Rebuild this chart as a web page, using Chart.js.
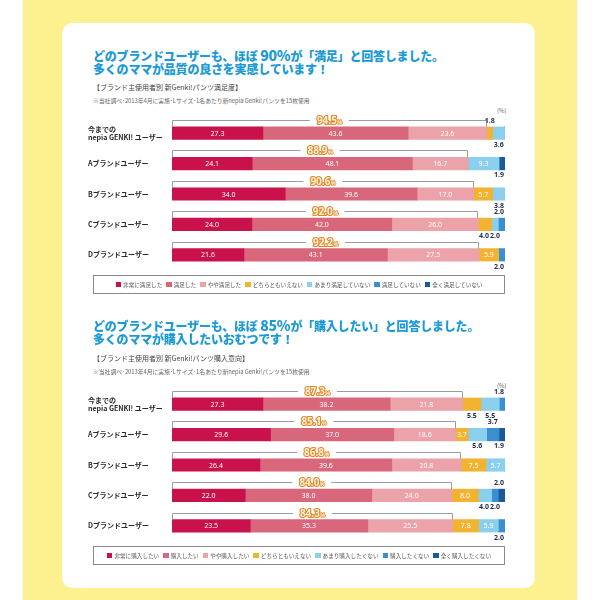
<!DOCTYPE html>
<html><head><meta charset="utf-8">
<script src="https://cdn.jsdelivr.net/npm/chart.js@4/dist/chart.umd.min.js"></script>
<style>
html,body{margin:0;padding:0;background:#fff;width:600px;height:600px;overflow:hidden;font-family:"Noto Sans CJK JP","Noto Sans",sans-serif;}
#yellow{position:absolute;left:23px;top:0;width:554px;height:600px;background:#fdf08e;}
#panel{position:absolute;left:62px;top:23px;width:473px;height:565px;background:#fff;border-radius:10px;}
.t{position:absolute;white-space:nowrap;}
.title{left:93px;font-size:12px;line-height:14px;font-weight:900;color:#1b9ad6;letter-spacing:-0.2px;}
.title b{font-size:14px;font-weight:900;}
.sub{left:93px;font-size:7px;line-height:9px;color:#444;}
.note{left:93px;font-size:5.8px;line-height:8px;color:#666;}
.pct{left:497px;font-size:6px;line-height:8px;color:#666;}
.cw{position:absolute;}
.legend{position:absolute;left:93px;width:412px;height:19px;box-sizing:border-box;border:1px solid #8a8a8a;display:flex;align-items:center;justify-content:center;font-size:5.6px;color:#555;}
.legend .item{display:flex;align-items:center;margin:0 2px;white-space:nowrap;}
.legend i{display:inline-block;width:5.5px;height:5.5px;margin-right:2px;}
</style>
</head>
<body>
<div id="yellow"></div>
<div id="panel"></div>

<div class="t title" style="top:48px">どのブランドユーザーも、ほぼ <b>90%</b>が「満足」と回答しました。</div>
<div class="t title" style="top:62px">多くのママが品質の良さを実感しています！</div>
<div class="t sub" style="top:82.5px">【ブランド主使用者別 新Genki!パンツ満足度】</div>
<div class="t note" style="top:97px">※当社調べ･2013年4月に実施･Lサイズ･1名あたり新nepia Genki!パンツを15枚使用</div>
<div class="t pct" style="top:107px">(%)</div>
<div class="cw" style="left:88px;top:104.75px;width:432px;height:178.5px"><canvas id="c1" width="432" height="178.5"></canvas></div>
<div class="legend" id="leg1" style="top:275px"></div>

<div class="t title" style="top:318px">どのブランドユーザーも、ほぼ <b>85%</b>が「購入したい」と回答しました。</div>
<div class="t title" style="top:332px">多くのママが購入したいおむつです！</div>
<div class="t sub" style="top:353.5px">【ブランド主使用者別 新Genki!パンツ購入意向】</div>
<div class="t note" style="top:368px">※当社調べ･2013年4月に実施･Lサイズ･1名あたり新nepia Genki!パンツを15枚使用</div>
<div class="t pct" style="top:382px">(%)</div>
<div class="cw" style="left:88px;top:376.3px;width:432px;height:178px"><canvas id="c2" width="432" height="178"></canvas></div>
<div class="legend" id="leg2" style="top:546px"></div>

<script>
// ---- data ----
const rowLabels = [["今までの","nepia GENKI! ユーザー"],"Aブランドユーザー","Bブランドユーザー","Cブランドユーザー","Dブランドユーザー"];

const satLabels = ["非常に満足した","満足した","やや満足した","どちらともいえない","あまり満足していない","満足していない","全く満足していない"];
const satVery    = [27.3, 24.1, 34.0, 24.0, 21.6];
const satYes     = [43.6, 48.1, 39.6, 42.0, 43.1];
const satSome    = [23.6, 16.7, 17.0, 26.0, 27.5];
const satNeutral = [1.8, 0, 5.7, 4.0, 5.9];
const satNotMuch = [3.6, 9.3, 3.8, 2.0, 0];
const satNot     = [0, 0, 0, 2.0, 2.0];
const satNotAll  = [0, 1.9, 0, 0, 0];
const satTotals  = [94.5, 88.9, 90.6, 92.0, 92.2];

const buyLabels = ["非常に購入したい","購入したい","やや購入したい","どちらともいえない","あまり購入したくない","購入したくない","全く購入したくない"];
const buyVery    = [27.3, 29.6, 26.4, 22.0, 23.5];
const buyYes     = [38.2, 37.0, 39.6, 38.0, 35.3];
const buySome    = [21.8, 18.6, 20.8, 24.0, 25.5];
const buyNeutral = [5.5, 3.7, 7.5, 8.0, 7.8];
const buyNotMuch = [5.5, 5.6, 5.7, 4.0, 5.9];
const buyNot     = [1.8, 3.7, 0, 2.0, 2.0];
const buyNotAll  = [0, 1.9, 0, 2.0, 0];
const buyTotals  = [87.3, 85.1, 86.8, 84.0, 84.3];

// ---- style ----
const colors = ["#c9124c","#d9677b","#eba2a9","#f2b430","#8bcfee","#3b8fd0","#1b5a98"];
// label placement per dataset/row: i=inside, a=above, b=below
const satPlace = [
  ["i","i","i","i","i"],["i","i","i","i","i"],["i","i","i","i","i"],
  ["a","","i","b","i"],["b","i","b","b",""],["","","","a","b"],["","b","","",""]
];
const buyPlace = [
  ["i","i","i","i","i"],["i","i","i","i","i"],["i","i","i","i","i"],
  ["b","i","i","i","i"],["b","b","i","b","i"],["a","a","","b","b"],["","b","","a",""]
];

const annot = {
  id:'annot',
  afterDatasetsDraw(chart, args, opts){
    const ctx = chart.ctx, xs = chart.scales.x;
    const ds = chart.data.datasets;
    const nRows = chart.data.labels.length;
    for(let r=0;r<nRows;r++){
      const b0 = chart.getDatasetMeta(0).data[r];
      const top = b0.y - b0.height/2, bot = b0.y + b0.height/2;
      // bracket
      const x0 = xs.getPixelForValue(0);
      let sum = 0; for(let d=0; d<3; d++) sum += ds[d].data[r];
      const x1 = xs.getPixelForValue(sum);
      const ly = Math.round(top-7)+0.5;
      ctx.save();
      ctx.strokeStyle='#9c9c9c'; ctx.lineWidth=1;
      ctx.beginPath();
      ctx.moveTo(Math.round(x0)+0.5, top); ctx.lineTo(Math.round(x0)+0.5, ly);
      ctx.lineTo(Math.round(x1)-0.5, ly); ctx.lineTo(Math.round(x1)-0.5, top);
      ctx.stroke();
      const num = opts.totals[r].toFixed(1);
      ctx.font='bold 10px "Noto Sans", sans-serif';
      const w1 = ctx.measureText(num).width;
      ctx.font='bold 5.5px "Noto Sans", sans-serif';
      const w2 = ctx.measureText('%').width;
      const tw = w1+w2, cx=(x0+x1)/2;
      ctx.fillStyle='#fff';
      ctx.fillRect(cx-tw/2-7, ly-4, tw+14, 8);
      ctx.textBaseline='middle'; ctx.textAlign='left';
      ctx.lineJoin='round';
      ctx.font='bold 10px "Noto Sans", sans-serif';
      ctx.strokeStyle='#e4852a'; ctx.lineWidth=2.2;
      ctx.strokeText(num, cx-tw/2, ly+0.5);
      ctx.fillStyle='#fff3d2';
      ctx.fillText(num, cx-tw/2, ly+0.5);
      ctx.font='bold 5.5px "Noto Sans", sans-serif';
      ctx.lineWidth=1.5;
      ctx.strokeText('%', cx-tw/2+w1+0.5, ly+2);
      ctx.fillText('%', cx-tw/2+w1+0.5, ly+2);
      ctx.restore();

      // values
      const outs = {a:[], b:[]};
      ctx.save();
      ctx.textAlign='center'; ctx.textBaseline='middle';
      for(let d=0; d<ds.length; d++){
        const v = ds[d].data[r];
        const p = opts.place[d][r];
        if(!v || !p) continue;
        const el = chart.getDatasetMeta(d).data[r];
        const mid = (el.x + el.base)/2;
        const txt = v.toFixed(1);
        if(p==='i'){
          ctx.font='7px "Noto Sans", sans-serif';
          ctx.fillStyle='#fff';
          ctx.fillText(txt, mid, el.y+0.5);
        } else {
          outs[p].push({x:mid, txt});
        }
      }
      ctx.font='bold 7px "Noto Sans", sans-serif';
      ctx.fillStyle='#1d2c4c';
      for(const side of ['a','b']){
        const list = outs[side];
        for(const it of list) it.w = ctx.measureText(it.txt).width;
        for(let i=list.length-1;i>=0;i--){
          let lim = xs.right - 6;
          if(i<list.length-1) lim = list[i+1].x - (list[i].w+list[i+1].w)/2 - 1;
          list[i].x = Math.min(list[i].x, lim);
        }
        const yy = side==='a' ? top-6 : bot+5.5;
        for(const it of list) ctx.fillText(it.txt, it.x, yy);
      }
      ctx.restore();
    }
  }
};

function makeChart(id, labels, series, totals, place){
  return new Chart(document.getElementById(id), {
    type:'bar',
    data:{
      labels: rowLabels,
      datasets: series.map((s,i)=>({label:labels[i], data:s, backgroundColor:colors[i], borderWidth:0, barThickness:12.5}))
    },
    options:{
      indexAxis:'y', responsive:false, maintainAspectRatio:false, animation:false,
      devicePixelRatio:1,
      layout:{padding:{top:13, bottom:13, right:15, left:0}},
      scales:{
        x:{stacked:true, min:0, max:100, display:false},
        y:{stacked:true, grid:{display:false}, border:{display:false},
           afterFit(s){ s.width = 84; },
           ticks:{crossAlign:'far', color:'#2a2a2a', font:{family:'"Noto Sans CJK JP", sans-serif', size:7, weight:'bold', lineHeight:1.2}}}
      },
      plugins:{legend:{display:false}, tooltip:{enabled:false}, annot:{totals, place}}
    },
    plugins:[annot]
  });
}

makeChart('c1', satLabels, [satVery,satYes,satSome,satNeutral,satNotMuch,satNot,satNotAll], satTotals, satPlace);
makeChart('c2', buyLabels, [buyVery,buyYes,buySome,buyNeutral,buyNotMuch,buyNot,buyNotAll], buyTotals, buyPlace);

function makeLegend(id, labels){
  const el = document.getElementById(id);
  labels.forEach((l,i)=>{
    const s = document.createElement('span'); s.className='item';
    const b = document.createElement('i'); b.style.background = colors[i];
    s.appendChild(b); s.appendChild(document.createTextNode(l));
    el.appendChild(s);
  });
}
makeLegend('leg1', satLabels);
makeLegend('leg2', buyLabels);
</script>
</body></html>
